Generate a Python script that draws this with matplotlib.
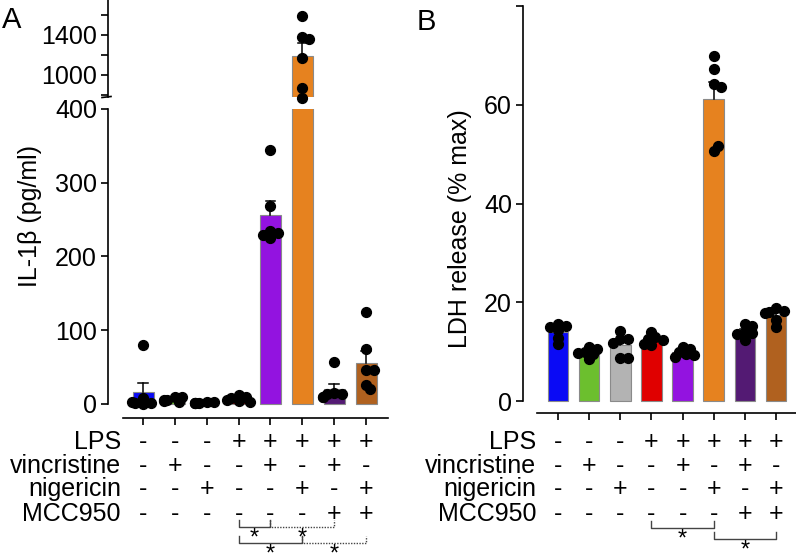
import matplotlib
matplotlib.use("Agg")
import matplotlib.pyplot as plt
import matplotlib.transforms as mtransforms
import numpy as np

plt.rcParams["font.family"] = ["Liberation Sans", "DejaVu Sans"]

# ---- data ----
conditions = ["LPS", "vincristine", "nigericin", "MCC950"]
treatment_signs = [
    ["-", "-", "-", "+", "+", "+", "+", "+"],
    ["-", "+", "-", "-", "+", "-", "+", "-"],
    ["-", "-", "+", "-", "-", "+", "-", "+"],
    ["-", "-", "-", "-", "-", "-", "+", "+"],
]
bar_colors = ["#0a0af5", "#6cbf2e", "#b3b3b3", "#e00000",
              "#9313e0", "#e6821f", "#531a73", "#b0611f"]

il1b_points = [
    [80, 8, 0, 2, 1, 3],
    [10, 9, 6, 5, 4, 3],
    [3, 3, 2, 1, 2, 1],
    [12, 10, 8, 6, 4, 3],
    [345, 268, 235, 232, 225, 229],
    [1590, 1380, 1360, 1170, 870, 770],
    [57, 15, 14, 13, 10, 9],
    [125, 74, 46, 46, 26, 20],
]
ldh_points = [
    [15.6, 15.2, 15.0, 14.4, 12.7, 11.5],
    [11.0, 10.5, 10.0, 9.7, 9.5, 8.6],
    [14.1, 12.5, 12.5, 11.8, 8.7, 8.8],
    [14.0, 12.9, 12.5, 12.3, 11.4, 11.6],
    [10.9, 10.6, 10.0, 9.5, 9.4, 9.0],
    [69.8, 67.3, 64.3, 63.5, 50.7, 51.7],
    [15.5, 15.2, 13.9, 13.7, 13.5, 12.3],
    [18.8, 18.2, 18.0, 17.8, 16.4, 14.9],
]

# significance brackets: (start, end, row, dotted)
il1b_brackets = [(3, 4, 0, False), (4, 6, 0, True), (3, 5, 1, False), (5, 7, 1, True)]
ldh_brackets = [(3, 5, 0, False), (5, 7, 1, False)]

W, H = 796, 555
fig = plt.figure(figsize=(W / 100, H / 100), dpi=100)


def px_axes(left, top, right, bottom):
    return fig.add_axes([left / W, 1 - bottom / H, (right - left) / W, (bottom - top) / H])


def mean_sem(points):
    arr = np.array(points, dtype=float)
    return arr.mean(), arr.std(ddof=1) / np.sqrt(len(arr))


def swarm_offsets(ax, x0, values, dot_px=9.0):
    """simple beeswarm: push overlapping dots sideways (returns data offsets)"""
    px_per_x = ax.transData.transform((1, 0))[0] - ax.transData.transform((0, 0))[0]
    placed = []
    offsets = []
    for v in values:
        y = ax.transData.transform((x0, v))[1]
        for k in [0, 1, -1, 2, -2, 3, -3]:
            dx = k * dot_px * 0.42
            ok = all(np.hypot(dx - px, y - py) >= dot_px * 0.62 for px, py in placed)
            if ok:
                break
        placed.append((dx, y))
        offsets.append(dx / px_per_x)
    return offsets


def style_axis(ax):
    for s in ["top", "right"]:
        ax.spines[s].set_visible(False)
    ax.spines["left"].set_linewidth(1.2)
    ax.spines["bottom"].set_linewidth(1.2)
    ax.tick_params(axis="both", direction="out", length=5, width=1.2, labelsize=18, pad=3)
    ax.patch.set_alpha(0)


def draw_bar(ax, i, pts):
    m, se = mean_sem(pts)
    ax.bar(i, m, width=0.66, color=bar_colors[i], edgecolor="#8a8a8a", linewidth=0.8, zorder=2)
    ax.plot([i, i], [m, m + se], color="black", lw=1.1, zorder=3)
    ax.plot([i - 0.15, i + 0.15], [m + se, m + se], color="black", lw=1.1, zorder=3)


def draw_bars(ax, points):
    for i, pts in enumerate(points):
        draw_bar(ax, i, pts)
        offs = swarm_offsets(ax, i, pts)
        ax.scatter(i + np.array(offs), pts, s=50, color="black", zorder=4)


def draw_table(ax, label_x):
    trans = mtransforms.blended_transform_factory(ax.transData, fig.transFigure)
    baselines = [449, 473, 496, 521]
    for r, name in enumerate(conditions):
        yb = 1 - baselines[r] / H
        fig.text(label_x / W, yb, name, ha="right", va="baseline", fontsize=18)
        for c, sign in enumerate(treatment_signs[r]):
            ax.text(c, yb, sign, ha="center", va="baseline", fontsize=18,
                    transform=trans, clip_on=False)


def draw_brackets(ax, brackets, rows_y):
    trans = mtransforms.blended_transform_factory(ax.transData, fig.transFigure)
    for a, b, row, dotted in brackets:
        y = 1 - rows_y[row] / H
        yt = y + 7 / H
        ls = (0, (1, 1)) if dotted else "-"
        ax.plot([a, a, b, b], [yt, y, y, yt], color="#444444", lw=1.0, ls=ls,
                transform=trans, clip_on=False)
        ax.text((a + b) / 2, y - 18 / H, "*", ha="center", va="baseline", fontsize=17,
                transform=trans, clip_on=False)


# ---- panel A ----
x_lo_a, x_hi_a = -1.1, 7.69
ax_low = px_axes(108, 109, 388, 418)
ax_up = px_axes(108, 0, 388, 97)
ax_low.set_xlim(x_lo_a, x_hi_a)
ax_up.set_xlim(x_lo_a, x_hi_a)
ax_low.set_ylim(-19, 400)
ax_up.set_ylim(780, 1750)
style_axis(ax_low)
style_axis(ax_up)

draw_bars(ax_low, il1b_points)
xs = np.arange(len(il1b_points))
for i, pts in enumerate(il1b_points):
    m, se = mean_sem(pts)
    if m > 780:
        draw_bar(ax_up, i, pts)
    big = [p for p in pts if p > 700]
    if big:
        offs = swarm_offsets(ax_up, i, big, dot_px=7.5)
        ax_up.scatter(i + np.array(offs), big, s=50, color="black", zorder=4, clip_on=False)

ax_low.set_yticks([0, 100, 200, 300, 400])
ax_low.spines["left"].set_bounds(0, 400)
ax_low.spines["bottom"].set_bounds(-0.63, x_hi_a)
ax_low.set_xticks(xs)
ax_low.set_xticklabels([])

ax_up.set_yticks([800, 1000, 1200, 1400, 1600])
ax_up.set_yticklabels(["", "1000", "", "1400", ""])
ax_up.spines["bottom"].set_visible(False)
ax_up.spines["left"].set_bounds(780, 1750)
ax_up.set_xticks([])

# axis break mark
fig.add_artist(plt.Line2D([102 / W, 111 / W], [1 - 97.5 / H, 1 - 96.5 / H], color="black", lw=1.2))

fig.text(30 / W, 1 - 216 / H, "IL-1β (pg/ml)", rotation=90, ha="center", va="center", fontsize=18)
fig.text(12 / W, 1 - 20 / H, "A", ha="center", va="center", fontsize=21)

draw_table(ax_low, 121)
draw_brackets(ax_low, il1b_brackets, [527, 543])

# ---- panel B ----
x_lo_b, x_hi_b = -1.125, 7.64
ax_b = px_axes(523, 6, 796, 413)
ax_b.set_xlim(x_lo_b, x_hi_b)
ax_b.set_ylim(-2.43, 80)
style_axis(ax_b)
draw_bars(ax_b, ldh_points)
ax_b.set_yticks([0, 20, 40, 60, 80])
ax_b.set_yticklabels(["0", "20", "40", "60", ""])
ax_b.spines["left"].set_bounds(0, 80)
ax_b.spines["bottom"].set_bounds(-0.675, x_hi_b)
ax_b.set_xticks(np.arange(len(ldh_points)))
ax_b.set_xticklabels([])

fig.text(460 / W, 1 - 229 / H, "LDH release (% max)", rotation=90, ha="center", va="center", fontsize=18)
fig.text(426 / W, 1 - 22 / H, "B", ha="center", va="center", fontsize=21)

draw_table(ax_b, 536)
draw_brackets(ax_b, ldh_brackets, [528, 539])

fig.savefig("out.png", dpi=100)
